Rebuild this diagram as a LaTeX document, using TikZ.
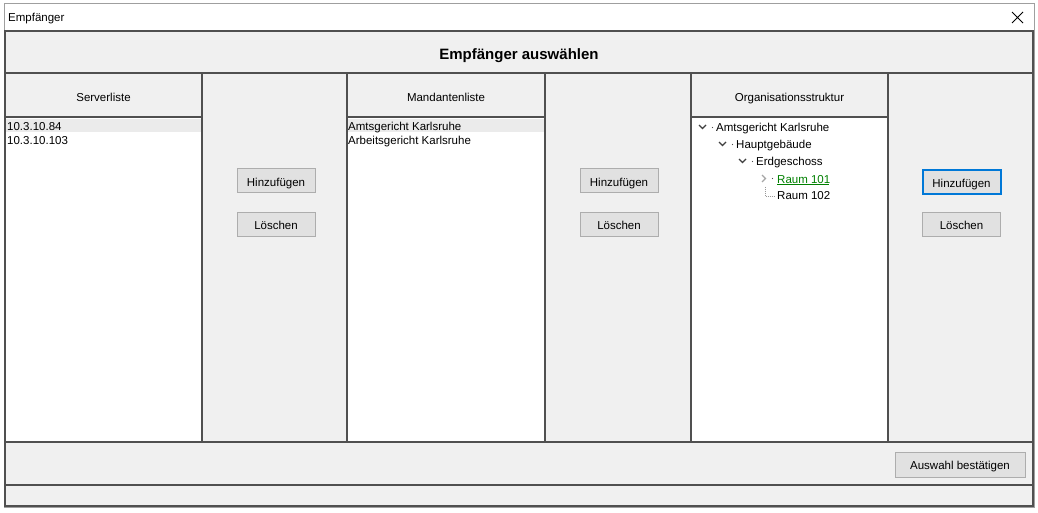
\documentclass[tikz,border=0pt]{standalone}
\usepackage{fontspec}
\setmainfont{Liberation Sans}
\definecolor{winbg}{HTML}{F0F0F0}
\definecolor{frame}{HTML}{505050}
\definecolor{btnfill}{HTML}{E1E1E1}
\definecolor{btnborder}{HTML}{ADADAD}
\definecolor{focusblue}{HTML}{0078D7}
\definecolor{selrow}{HTML}{EBEBEB}
\definecolor{linkgreen}{HTML}{008000}
\definecolor{chevgray}{HTML}{404040}
\begin{document}
\begin{tikzpicture}[x=1pt,y=-1pt,
  panel/.style={draw=frame, line width=1.6pt},
  lbl/.style={font=\fontsize{11.5}{13}\selectfont, text=black, inner sep=0pt, text height=10.5pt, text depth=0.5pt},
  btn/.style={draw=btnborder, fill=btnfill, line width=1pt, minimum width=78pt, minimum height=24pt, inner sep=0pt, text height=10.5pt, text depth=0pt, font=\fontsize{11.5}{13}\selectfont},
  focusbtn/.style={btn, draw=focusblue, line width=2pt},
  chev/.style={draw=chevgray, line width=1.2pt},
  treedot/.style={fill=black!70, circle, inner sep=0pt, minimum size=1.4pt}
]
\useasboundingbox (0,0) rectangle (1038,513);
\fill[white] (0,0) rectangle (1038,513);
% window
\fill[winbg] (5,31) rectangle (1033,506);
\draw[gray!75, line width=0.8pt] (4,3) rectangle (1034,507);
\node[lbl, anchor=west] (wintitle) at (8,17) {Empfänger};
\draw[black, line width=1pt] (1012,12) -- (1023,23) (1012,23) -- (1023,12);
\coordinate (closebtn) at (1018,17);
% header
\draw[panel] (5,31) rectangle (1033,73);
\node[font=\bfseries\fontsize{15}{17}\selectfont, inner sep=0pt, text height=14pt, text depth=0pt] (title) at (519,53) {Empfänger auswählen};
% list columns
\foreach \xa/\xb in {5/202, 347/545, 691/888}{
  \fill[white] (\xa,117) rectangle (\xb,442);
}
\fill[selrow] (6,119) rectangle (201,132);
\fill[selrow] (348,119) rectangle (544,132);
\foreach \xa/\xb in {5/202, 202/347, 347/545, 545/691, 691/888, 888/1033}{
  \draw[panel] (\xa,73) rectangle (\xb,442);
}
\foreach \xa/\xb in {5/202, 347/545, 691/888}{
  \draw[panel] (\xa,117) -- (\xb,117);
}
% column headers
\node[lbl] (h1) at (103.5,97) {Serverliste};
\node[lbl] (h2) at (446,97) {Mandantenliste};
\node[lbl] (h3) at (789.5,97) {Organisationsstruktur};
% list items
\node[lbl, anchor=west] (s1) at (7,126) {10.3.10.84};
\node[lbl, anchor=west] (s2) at (7,140) {10.3.10.103};
\node[lbl, anchor=west] (m1) at (348,126) {Amtsgericht Karlsruhe};
\node[lbl, anchor=west] (m2) at (348,140) {Arbeitsgericht Karlsruhe};
% tree
\draw[chev] (699,125) -- (702.5,128.5) -- (706,125);
\node[treedot] (d1) at (712.5,127.5) {};
\node[lbl, anchor=west] (t1) at (716,127) {Amtsgericht Karlsruhe};
\draw[chev] (719,142) -- (722.5,145.5) -- (726,142);
\node[treedot] (d2) at (732.5,144.5) {};
\node[lbl, anchor=west] (t2) at (736,144) {Hauptgebäude};
\draw[chev] (739,159) -- (742.5,162.5) -- (746,159);
\node[treedot] (d3) at (752.5,161.5) {};
\node[lbl, anchor=west] (t3) at (756,161) {Erdgeschoss};
\draw[draw=gray!70, line width=1.2pt] (762,175) -- (765.5,178.5) -- (762,182);
\node[treedot] (d4) at (772.5,178.5) {};
\node[lbl, anchor=west, text=linkgreen] (t4) at (777,178) {Raum 101};
\draw[linkgreen, line width=1pt] (777,185) -- (829,185);
\draw[gray!80, line width=0.7pt, dash pattern=on 0.7pt off 1.3pt] (765,187) -- (765,196.5) -- (775,196.5);
\node[lbl, anchor=west] (t5) at (777,195) {Raum 102};
% buttons
\node[btn] (add1) at (276,181) {Hinzufügen};
\node[btn] (del1) at (276,224.5) {Löschen};
\node[btn] (add2) at (619,181) {Hinzufügen};
\node[btn] (del2) at (619,224.5) {Löschen};
\node[focusbtn] (add3) at (961.5,182) {Hinzufügen};
\node[btn] (del3) at (961.5,224.5) {Löschen};
% bottom
\draw[panel] (5,442) rectangle (1033,485);
\node[btn, minimum width=130pt, minimum height=25pt] (confirm) at (960,464.5) {Auswahl bestätigen};
\draw[panel] (5,485) rectangle (1033,506);
\end{tikzpicture}
\end{document}
